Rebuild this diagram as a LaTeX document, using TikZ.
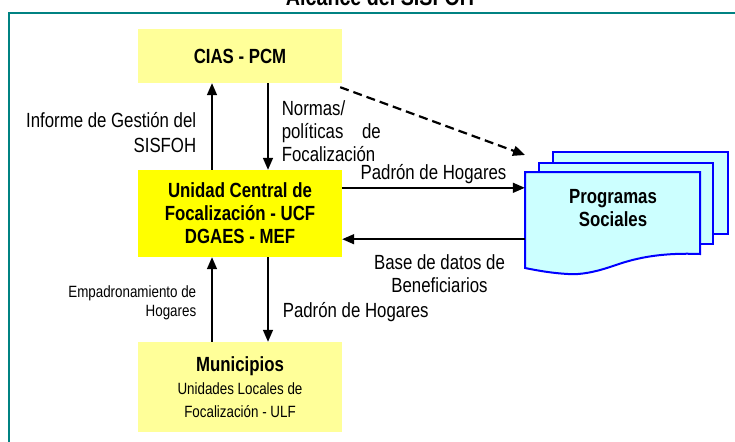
\documentclass[tikz,border=0pt]{standalone}
\usepackage{fontspec}
\setmainfont{Liberation Sans}[FakeStretch=0.82]
\usetikzlibrary{arrows.meta, positioning}
\definecolor{frameteal}{HTML}{008282}
\definecolor{paleyellow}{HTML}{FFFF99}
\definecolor{brightyellow}{HTML}{FFFF00}
\definecolor{docblue}{HTML}{0000FF}
\definecolor{docfill}{HTML}{CCFFFF}
\newcommand{\mainsize}{\fontsize{20.5}{23}\selectfont}
\newcommand{\smallsize}{\fontsize{16.3}{19}\selectfont}
\tikzset{
  org/.style={minimum width=204pt, inner sep=0pt, align=center, font=\mainsize\bfseries},
  lbl/.style={font=\mainsize, inner sep=0pt},
  flow/.style={-{Triangle[length=12pt, width=10pt]}, line width=1.6pt},
  doc/.style={draw=docblue, line width=2pt, fill=docfill},
}

\begin{document}
\begin{tikzpicture}[x=1pt, y=-1pt]
  \useasboundingbox (0,0) rectangle (735,441);
  \clip (0,0) rectangle (735,441);
  % marco y titulo
  \draw[frameteal, line width=2.5pt] (9,470) -- (9,13) -- (770,13);
  \node (title) [font=\fontsize{24}{28}\selectfont\bfseries, anchor=base] at (380,6) {Alcance del SISFOH};
  % entidades
  \node (cias) [org, fill=paleyellow, minimum height=54pt] at (240,56) {CIAS - PCM};
  \node (ucf) [org, fill=brightyellow, minimum height=87pt] at (240,213.5) {Unidad Central de\\Focalización - UCF\\DGAES - MEF};
  \node (muni) [org, fill=paleyellow, minimum height=90pt] at (240,387) {Municipios\\\smallsize\mdseries Unidades Locales de\\\smallsize\mdseries Focalización - ULF};
  % programas sociales (documentos apilados)
  \draw[doc] (553,152) rectangle (728,234);
  \draw[doc] (539,163) rectangle (713,244);
  \draw[doc] (525,172) -- (700,172) -- (700,254)
    .. controls (650,252) and (625,262) .. (610,267)
    .. controls (595,272) and (580,275) .. (568,274)
    .. controls (550,273) and (535,270) .. (525,268) -- cycle;
  \node (progdoc) [minimum width=175pt, minimum height=82pt, inner sep=0pt] at (612.5,213) {};
  \node (prog) [font=\mainsize\bfseries, align=center, inner sep=0pt] at (613,208.5) {Programas\\Sociales};
  \coordinate (dashend) at (525,155);
  % flujos
  \draw[flow] ([xshift=-28pt]ucf.north) -- ([xshift=-28pt]cias.south)
    node[lbl, align=right, left=15pt, pos=0.43] {Informe de Gestión del\\[2pt]SISFOH};
  \draw[flow] ([xshift=28pt]cias.south) -- ([xshift=28pt]ucf.north)
    node[lbl, align=left, text width=99pt, right=13pt, pos=0.55] {Normas/\\políticas\hfill de\\Focalización};
  \draw[flow] ([xshift=-28pt]muni.north) -- ([xshift=-28pt]ucf.south)
    node[font=\smallsize, inner sep=0pt, align=right, left=15pt, pos=0.465] {Empadronamiento de\\Hogares};
  \draw[flow] ([xshift=28pt]ucf.south) -- ([xshift=28pt]muni.north)
    node[lbl, right=14pt, pos=0.65] {Padrón de Hogares};
  \draw[flow] ([yshift=-18pt]ucf.north east) -- ([yshift=-18pt]ucf.north east -| progdoc.west)
    node[lbl, midway, above=3pt] {Padrón de Hogares};
  \draw[flow] ([yshift=18pt]ucf.south east -| progdoc.west) -- ([yshift=18pt]ucf.south east)
    node[lbl, align=center, midway, below=15pt, xshift=6pt] {Base de datos de\\Beneficiarios};
  \draw[flow, dash pattern=on 9pt off 5pt, line width=2.2pt] ([shift={(-2pt,-4pt)}]cias.south east) -- (dashend);
\end{tikzpicture}
\end{document}
